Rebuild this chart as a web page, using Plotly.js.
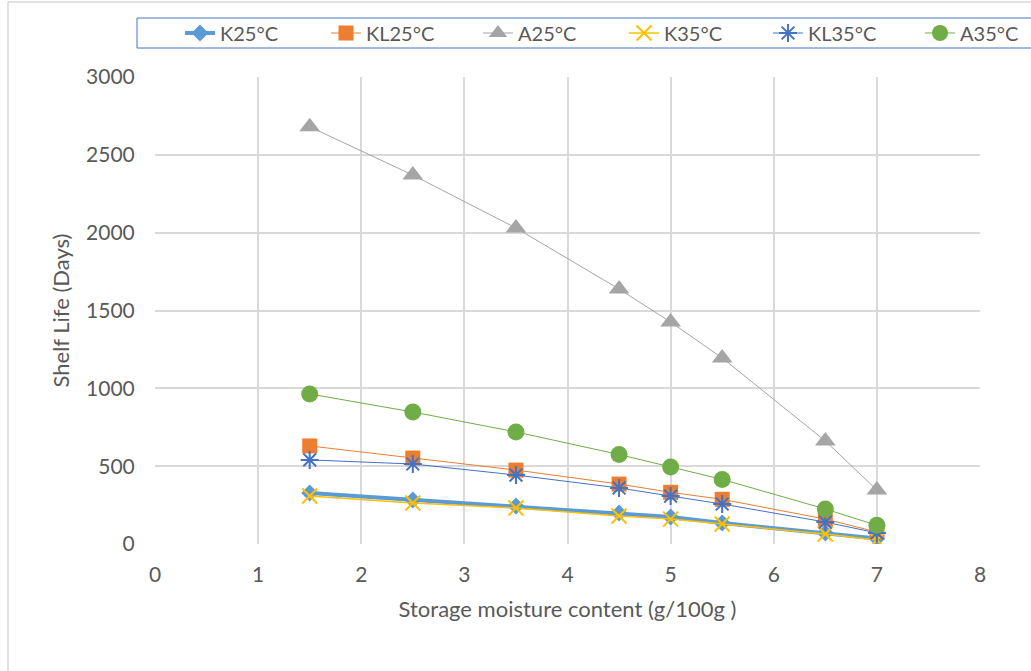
<!DOCTYPE html>
<html>
<head>
<meta charset="utf-8">
<script src="https://cdn.plot.ly/plotly-3.0.1.min.js"></script>
<style>html,body{margin:0;padding:0;background:#fff;}#chart{width:1031px;height:671px;}</style>
</head>
<body>
<div id="chart"></div>
<script>
const moisture = [1.5, 2.5, 3.5, 4.5, 5, 5.5, 6.5, 7];
const K25 = [328, 283, 244, 199, 173, 135, 71, 35];
const KL25 = [630, 552, 475, 385, 332, 287, 160, 77];
const A25 = [2680, 2370, 2030, 1638, 1426, 1195, 662, 347];
const K35 = [308, 263, 231, 180, 160, 128, 64, 26];
const KL35 = [540, 514, 443, 360, 308, 257, 141, 71];
const A35 = [964, 848, 720, 575, 495, 415, 225, 120];

const xTicks = [0,1,2,3,4,5,6,7,8];
const yTicks = [0,500,1000,1500,2000,2500,3000];

const L = 155, R = 980, T = 77, B = 544, W = 1031, H = 671;
const px = v => (v - L) / (R - L);
const py = v => (B - v) / (B - T);

function tr(name, y, color, lw, sym, size, mline, leg) {
  const m = {symbol: sym, size: size, color: color};
  if (mline) m.line = mline;
  return {x: moisture, y: y, name: name, mode: 'lines+markers', type: 'scatter',
    line: {color: color, width: lw}, marker: m, legend: leg};
}
const data = [
  tr('K25°C', K25, '#5b9bd5', 4, 'diamond', 13, null, 'legend'),
  tr('KL25°C', KL25, '#ed7d31', 1, 'square', 15, null, 'legend2'),
  tr('A25°C', A25, '#a5a5a5', 1, 'triangle-up', 18, null, 'legend3'),
  tr('K35°C', K35, '#ffc000', 1.5, 'x-thin-open', 15, {color:'#ffc000', width:2}, 'legend4'),
  tr('KL35°C', KL35, '#4472c4', 1, 'asterisk-open', 15, {color:'#4472c4', width:2}, 'legend5'),
  tr('A35°C', A35, '#70ad47', 1, 'circle', 17, null, 'legend6')
];
const textStarts = [222, 368, 520, 666, 810, 962];
function leg(i) {
  return {orientation: 'h', x: px(textStarts[i] - 42), y: py(33), xanchor: 'left', yanchor: 'middle',
    borderwidth: 0, bgcolor: 'rgba(0,0,0,0)', font: {size: 20, color: '#595959'}};
}
const layout = {
  width: W, height: H,
  margin: {l: L, r: W - R, t: T, b: H - B, autoexpand: false},
  paper_bgcolor: '#fff', plot_bgcolor: '#fff',
  font: {family: 'Lato, "Open Sans", sans-serif', size: 21, color: '#595959'},
  showlegend: true,
  legend: leg(0), legend2: leg(1), legend3: leg(2), legend4: leg(3), legend5: leg(4), legend6: leg(5),
  xaxis: {range: [0, 8], tickvals: xTicks, ticktext: xTicks.map(String), automargin: false,
    showgrid: true, gridcolor: '#d9d9d9', gridwidth: 1.5, zeroline: false, showline: false,
    ticks: 'outside', ticklen: 12, tickcolor: 'rgba(0,0,0,0)', tickfont: {size: 21},
    title: {text: 'Storage moisture content (g/100g )', font: {size: 22, color: '#595959'}, standoff: 16}},
  yaxis: {range: [0, 3000], tickvals: yTicks, ticktext: yTicks.map(String), automargin: false,
    showgrid: true, gridcolor: '#d9d9d9', gridwidth: 1.5, zeroline: false, showline: false,
    ticks: 'outside', ticklen: 15, tickcolor: 'rgba(0,0,0,0)', tickfont: {size: 21},
    title: {text: 'Shelf Life (Days)', font: {size: 22, color: '#595959'}, standoff: 10}},
  shapes: [
    {type: 'line', xref: 'paper', yref: 'paper', x0: px(8), x1: px(8), y0: py(2), y1: py(671), line: {color: '#d9d9d9', width: 1.5}},
    {type: 'line', xref: 'paper', yref: 'paper', x0: px(8), x1: px(1031), y0: py(2), y1: py(2), line: {color: '#d9d9d9', width: 1.5}},
    {type: 'rect', xref: 'paper', yref: 'paper', x0: px(137), x1: px(1040), y0: py(18), y1: py(48), line: {color: '#4472c4', width: 1}, fillcolor: 'rgba(0,0,0,0)'}
  ]
};
Plotly.newPlot('chart', data, layout, {displayModeBar: false, responsive: false});
</script>
</body>
</html>
